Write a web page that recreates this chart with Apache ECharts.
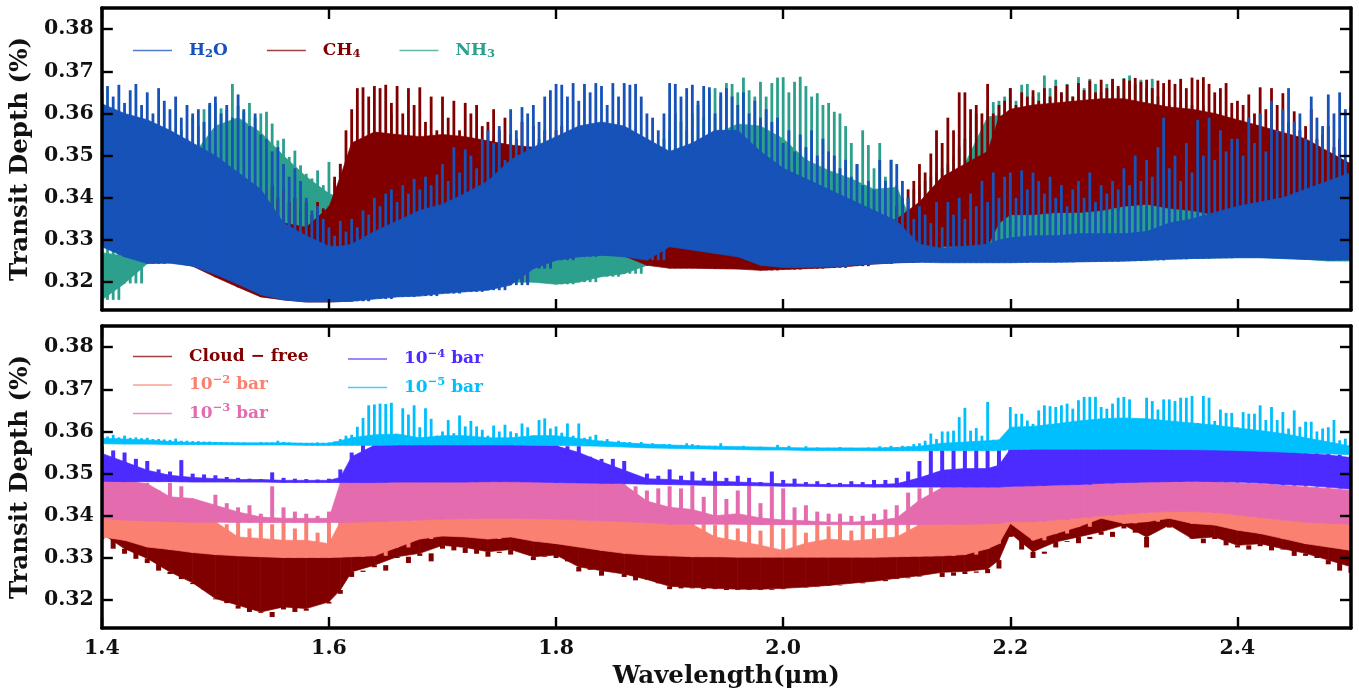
<!DOCTYPE html>
<html><head><meta charset="utf-8">
<style>html,body{margin:0;padding:0;background:#fff}#c{width:1359px;height:691px}</style>
<script src="https://cdn.jsdelivr.net/npm/echarts@6/dist/echarts.min.js"></script>
</head><body><div id="c"></div>
<script>
// All depths below are in units of 0.0001 %.
const bandWave=[1.40,1.42,1.44,1.46,1.48,1.50,1.52,1.54,1.56,1.58,1.60,1.61,1.62,
1.64,1.66,1.68,1.70,1.72,1.74,1.76,1.78,1.80,1.82,1.84,1.86,1.88,1.90,
1.92,1.94,1.96,1.98,2.00,2.02,2.04,2.06,2.08,2.10,2.12,2.14,2.16,2.18,
2.19,2.20,2.22,2.24,2.26,2.28,2.30,2.32,2.34,2.36,2.38,2.40,2.42,2.44,2.46,2.48,2.50];
const xTicks=[1.4,1.6,1.8,2.0,2.2,2.4];
const yTicks=[0.32,0.33,0.34,0.35,0.36,0.37,0.38];

// ---- upper panel
const h2oLo=[3284,3260,3244,3245,3238,3218,3195,3170,3158,3153,3153,3154,3155,
3160,3165,3167,3173,3177,3181,3193,3232,3252,3260,3264,3260,3252,3284,
3276,3268,3260,3240,3235,3235,3236,3240,3243,3246,3247,3246,3246,3246,
3246,3246,3247,3247,3248,3249,3250,3252,3255,3256,3257,3258,3258,3256,3254,3252,3253];
const h2oCore=[3623,3600,3585,3560,3530,3500,3460,3420,3340,3310,3285,3285,3290,
3320,3345,3370,3385,3410,3440,3490,3520,3545,3570,3580,3570,3540,3510,
3530,3560,3560,3510,3470,3445,3420,3395,3370,3345,3290,3280,3285,3290,
3300,3305,3310,3310,3315,3315,3315,3320,3340,3350,3365,3380,3390,3400,3420,3440,3460];
const h2oPeak=[3650,3665,3640,3668,3625,3655,3670,3620,3650,3600,3660,3630,3610,3640,3590,3620,3600,3610,3580,3625,
3640,3600,3620,3590,3645,3610,3570,3600,3550,3540,3510,3520,3480,3450,3470,3440,3400,3370,3380,3350,
3330,3310,3345,3320,3350,3330,3370,3360,3400,3380,3410,3420,3390,3430,3410,3445,3420,3450,3430,3455,
3480,3440,3520,3460,3515,3500,3470,3540,3560,3530,3570,3490,3610,3560,3615,3600,3620,3580,3640,3655,
3670,3668,3640,3672,3630,3670,3650,3672,3665,3620,3672,3640,3672,3668,3670,3640,3600,3590,3560,3600,
3672,3670,3640,3660,3668,3630,3665,3662,3600,3650,3660,3640,3620,3650,3600,3630,3590,3610,3580,3590,
3530,3560,3510,3550,3520,3560,3500,3540,3510,3500,3470,3490,3450,3480,3430,3440,3420,3490,3440,3490,
3480,3440,3400,3350,3380,3360,3340,3390,3330,3390,3360,3400,3350,3410,3380,3440,3390,3460,3400,3450,
3460,3400,3465,3420,3460,3440,3410,3450,3400,3430,3380,3420,3440,3400,3460,3390,3430,3410,3440,3420,
3470,3430,3500,3440,3490,3450,3520,3590,3470,3500,3440,3530,3460,3585,3500,3590,3490,3560,3510,3540,
3540,3500,3590,3530,3600,3510,3630,3560,3610,3660,3580,3600,3540,3640,3590,3570,3645,3600,3650,3610,3615];

const ch4Lo=[3300,3270,3250,3248,3238,3212,3188,3165,3158,3153,3153,3154,3155,
3165,3170,3175,3180,3185,3190,3200,3235,3255,3262,3265,3262,3240,3233,
3233,3232,3231,3228,3230,3232,3234,3238,3243,3246,3248,3285,3285,3285,
3340,3360,3360,3365,3365,3370,3380,3385,3375,3370,3360,3360,3345,3345,3345,3345,3345];
const ch4Core=[3420,3420,3400,3390,3370,3350,3340,3330,3340,3330,3378,3450,3530,
3556,3550,3545,3550,3545,3535,3525,3520,3490,3480,3460,3450,3420,3380,
3350,3320,3300,3290,3280,3280,3280,3290,3330,3350,3390,3450,3480,3510,
3590,3610,3620,3625,3630,3635,3635,3625,3615,3610,3600,3585,3570,3555,3540,3510,3480];
const ch4Peak=[3400,3400,3400,3400,3400,3400,3400,3400,3400,3400,3400,3400,3400,3400,3400,3400,3400,3400,3400,3400,
3350,3340,3330,3350,3340,3340,3345,3330,3350,3340,3430,3400,3420,3390,3400,3370,3390,3360,3390,3375,
3380,3450,3480,3560,3610,3660,3662,3640,3665,3660,3668,3625,3665,3600,3660,3620,3662,3580,3640,3560,
3640,3590,3630,3560,3625,3600,3620,3570,3580,3610,3560,3590,3550,3540,3580,3520,3570,3530,3560,3540,
3560,3570,3540,3550,3540,3530,3520,3540,3500,3520,3500,3510,3470,3510,3480,3490,3460,3450,3440,3470,
3440,3420,3430,3400,3420,3380,3400,3370,3380,3360,3370,3350,3340,3350,3320,3330,3310,3300,3310,3290,
3300,3290,3300,3290,3310,3300,3290,3310,3300,3320,3330,3340,3310,3340,3350,3330,3370,3340,3360,3350,
3380,3400,3420,3440,3480,3460,3505,3560,3530,3590,3560,3650,3650,3610,3620,3600,3670,3600,3620,3630,
3660,3620,3650,3640,3655,3630,3660,3640,3665,3650,3668,3640,3672,3655,3678,3650,3680,3660,3682,3665,
3682,3678,3684,3675,3680,3660,3678,3672,3680,3670,3682,3660,3685,3680,3686,3670,3650,3660,3672,3625,
3630,3620,3645,3600,3662,3610,3660,3620,3648,3580,3605,3560,3570,3610,3540,3550,3570,3520,3540,3490,3480];

const nh3Lo=[3158,3197,3244,3250,3250,3250,3240,3220,3210,3200,3200,3200,3200,
3200,3200,3200,3200,3200,3200,3200,3200,3195,3200,3213,3220,3240,3260,
3270,3270,3270,3265,3260,3250,3250,3250,3250,3250,3250,3250,3250,3250,
3250,3250,3250,3250,3250,3250,3250,3252,3254,3256,3257,3258,3258,3256,3254,3250,3250];
const nh3Core=[3270,3262,3278,3400,3500,3570,3590,3555,3500,3450,3410,3400,3400,
3320,3340,3360,3380,3400,3420,3450,3480,3500,3520,3530,3510,3500,3480,
3490,3550,3575,3570,3540,3490,3465,3445,3420,3425,3300,3400,3480,3592,
3595,3590,3600,3610,3620,3620,3630,3620,3600,3580,3560,3550,3540,3500,3480,3420,3400];
const nh3Peak=[3330,3300,3320,3290,3330,3300,3350,3330,3380,3360,3450,3500,3530,3550,3560,3540,3590,3570,3610,3620,
3625,3612,3608,3670,3618,3605,3625,3590,3600,3604,3576,3536,3540,3497,3512,3477,3457,3446,3465,3430,
3485,3442,3481,3440,3450,3480,3500,3510,3530,3520,3540,3600,3500,3540,3550,3510,3530,3520,3550,3540,
3520,3540,3500,3520,3530,3490,3520,3530,3510,3540,3500,3520,3510,3530,3500,3510,3520,3540,3500,3530,
3510,3530,3490,3500,3510,3470,3500,3490,3480,3500,3510,3470,3500,3490,3510,3480,3500,3520,3490,3540,
3560,3600,3580,3560,3600,3620,3590,3650,3660,3640,3672,3670,3650,3685,3655,3640,3675,3640,3672,3685,
3686,3650,3675,3687,3665,3640,3648,3620,3625,3604,3600,3570,3530,3480,3560,3525,3470,3530,3450,3490,
3430,3380,3400,3420,3430,3440,3450,3460,3470,3480,3500,3520,3540,3560,3600,3560,3610,3627,3630,3640,
3660,3630,3668,3670,3640,3650,3690,3660,3680,3650,3670,3640,3686,3660,3682,3670,3650,3670,3680,3660,
3684,3690,3670,3680,3660,3682,3640,3650,3620,3600,3630,3600,3620,3610,3620,3590,3600,3580,3570,3580,
3560,3540,3550,3520,3530,3500,3510,3480,3490,3460,3470,3440,3460,3420,3440,3400,3420,3380,3400,3360,3350];

// ---- lower panel
const cloudLo=[3358,3322,3299,3267,3241,3204,3188,3172,3184,3180,3196,3224,3267,
3283,3303,3311,3330,3325,3315,3320,3303,3307,3279,3270,3262,3249,3233,
3230,3228,3226,3226,3228,3231,3235,3240,3245,3252,3258,3266,3268,3274,
3295,3358,3315,3338,3350,3362,3378,3350,3378,3346,3350,3330,3334,3322,3311,3295,3279];
const cloudTop=[3370,3350,3330,3322,3315,3310,3306,3303,3302,3302,3302,3303,3304,
3310,3330,3350,3356,3354,3350,3354,3345,3338,3330,3322,3315,3310,3306,
3304,3304,3303,3303,3303,3303,3303,3303,3303,3304,3305,3306,3310,3325,
3336,3385,3345,3360,3376,3396,3385,3388,3396,3385,3380,3368,3360,3348,3336,3328,3320];
const cloudDip=[3345,3322,3310,3298,3288,3270,3262,3250,3238,3225,
3202,3193,3180,3172,3170,3160,3178,3172,3175,3180,
3192,3215,3255,3270,3278,3270,3300,3288,3305,3292,
3322,3318,3312,3310,3303,3312,3308,3318,3295,3305,
3300,3292,3268,3272,3258,3268,3255,3247,3248,3240,
3226,3228,3228,3226,3226,3224,3224,3224,3224,3224,
3226,3228,3230,3232,3234,3236,3240,3242,3245,3248,
3250,3254,3256,3258,3255,3258,3262,3265,3264,3275,
3350,3320,3300,3310,3325,3340,3335,3345,3355,3350,
3370,3360,3325,3350,3372,3370,3375,3335,3345,3330,
3325,3320,3328,3318,3320,3305,3305,3300,3285,3270,3265];
const bar2Lo=[3350,3342,3326,3320,3313,3308,3305,3303,3301,3301,3301,3302,3303,
3305,3325,3345,3352,3350,3345,3350,3340,3334,3326,3318,3311,3307,3305,
3303,3303,3302,3302,3302,3302,3302,3302,3302,3303,3304,3305,3308,3322,
3334,3382,3342,3358,3374,3394,3382,3386,3394,3382,3378,3366,3358,3346,3334,3326,3318];
const bar2Core=[3401,3394,3390,3387,3386,3386,3350,3346,3342,3342,3334,3386,3386,
3386,3388,3390,3392,3393,3394,3394,3393,3392,3390,3388,3386,3384,3380,
3380,3350,3340,3330,3318,3335,3345,3340,3345,3350,3379,3380,3381,3382,
3382,3386,3386,3390,3395,3400,3404,3408,3410,3410,3408,3402,3396,3390,3385,3382,3380];
const bar2Peak=[3405,3398,3392,3390,3388,3387,3387,3387,3386,3387,
3387,3380,3386,3370,3385,3380,3388,3370,3386,3360,
3385,3388,3388,3390,3390,3392,3392,3394,3400,3396,
3398,3398,3396,3396,3396,3396,3395,3395,3395,3400,
3395,3394,3393,3392,3391,3390,3389,3388,3386,3384,
3382,3382,3381,3380,3378,3382,3370,3380,3365,3380,
3370,3382,3360,3382,3375,3380,3365,3380,3370,3382,
3380,3380,3380,3380,3381,3381,3381,3382,3382,3382,
3388,3388,3392,3394,3398,3400,3402,3404,3408,3406,
3406,3410,3410,3412,3412,3412,3414,3410,3410,3405,
3404,3400,3398,3392,3390,3388,3386,3384,3383,3382,3381];
const bar3Lo=[3394,3390,3388,3386,3385,3385,3384,3384,3384,3384,3384,3384,3385,
3386,3388,3390,3392,3393,3394,3394,3393,3392,3390,3388,3386,3384,3380,
3380,3380,3380,3379,3379,3379,3379,3379,3379,3379,3379,3380,3380,3381,
3382,3386,3386,3390,3395,3400,3404,3408,3410,3410,3408,3402,3396,3390,3385,3382,3380];
const bar3Core=[3483,3483,3476,3445,3441,3425,3409,3397,3394,3394,3394,3478,3480,
3481,3481,3481,3481,3481,3481,3481,3480,3479,3478,3477,3474,3435,3420,
3415,3400,3405,3395,3390,3388,3385,3385,3388,3395,3437,3467,3467,3467,
3470,3476,3477,3478,3479,3480,3480,3481,3482,3481,3481,3478,3476,3472,3468,3465,3460];
const bar3Peak=[3484,3484,3480,3470,3478,3460,3478,3470,3440,3430,
3450,3430,3420,3425,3405,3470,3420,3410,3405,3400,
3410,3460,3482,3482,3482,3482,3482,3482,3482,3482,
3482,3482,3482,3482,3482,3481,3481,3480,3480,3480,
3479,3478,3477,3477,3476,3476,3474,3470,3460,3465,
3470,3465,3472,3445,3472,3440,3460,3472,3430,3470,
3465,3420,3425,3410,3405,3405,3400,3400,3405,3415,
3425,3455,3465,3467,3467,3467,3467,3467,3467,3470,
3478,3478,3479,3480,3480,3481,3482,3482,3483,3483,
3484,3483,3484,3484,3485,3484,3484,3483,3483,3482,
3482,3480,3480,3478,3476,3474,3472,3470,3468,3465,3462];
const bar4Lo=[3482,3481,3481,3481,3480,3480,3480,3480,3479,3479,3479,3479,3479,
3479,3480,3480,3480,3480,3481,3481,3480,3479,3478,3477,3476,3475,3474,
3473,3472,3472,3471,3470,3470,3469,3469,3468,3468,3468,3468,3468,3468,
3468,3470,3471,3473,3474,3477,3479,3480,3481,3482,3481,3480,3478,3474,3472,3468,3463];
const bar4Core=[3548,3528,3508,3496,3491,3488,3486,3486,3484,3484,3484,3491,3540,
3567,3568,3568,3568,3568,3568,3568,3567,3566,3550,3528,3508,3488,3486,
3483,3482,3480,3478,3476,3475,3474,3474,3474,3476,3490,3508,3512,3512,
3520,3558,3560,3560,3561,3561,3561,3560,3560,3559,3558,3556,3555,3552,3548,3544,3538];
const bar4Peak=[3565,3555,3550,3535,3530,3510,3505,3532,3500,3498,
3496,3492,3490,3488,3487,3503,3490,3488,3487,3486,
3488,3510,3550,3570,3570,3570,3570,3570,3570,3570,
3570,3570,3570,3570,3570,3570,3570,3570,3570,3570,
3568,3565,3565,3540,3535,3535,3530,3495,3500,3495,
3510,3495,3505,3490,3505,3490,3495,3490,3480,3505,
3485,3488,3480,3482,3478,3478,3482,3480,3485,3485,
3490,3505,3530,3565,3560,3568,3555,3570,3565,3570,
3562,3562,3563,3563,3564,3564,3564,3562,3562,3562,
3562,3562,3561,3560,3560,3560,3560,3558,3558,3558,
3556,3555,3554,3553,3552,3552,3548,3550,3548,3545,3545];
const bar5Lo=[3571,3570,3570,3569,3569,3569,3568,3568,3568,3567,3567,3567,3567,
3567,3568,3568,3568,3568,3568,3568,3567,3567,3566,3565,3563,3561,3560,
3559,3558,3557,3556,3556,3555,3555,3555,3554,3554,3554,3555,3555,3555,
3555,3557,3558,3558,3558,3558,3558,3558,3557,3557,3556,3555,3553,3551,3549,3547,3545];
const bar5Core=[3584,3582,3580,3576,3574,3574,3573,3573,3573,3572,3572,3578,3585,
3592,3594,3585,3590,3590,3585,3585,3590,3590,3583,3577,3573,3570,3568,
3566,3565,3564,3563,3562,3561,3561,3561,3561,3562,3565,3572,3575,3578,
3580,3610,3612,3618,3625,3630,3632,3630,3625,3620,3615,3608,3602,3595,3585,3575,3565];
const bar5Peak=[3590,3588,3592,3586,3590,3585,3586,3584,3585,3582,3582,3581,3580,3583,3578,3578,3577,3577,3576,3576,
3575,3575,3574,3574,3574,3574,3573,3573,3575,3574,3574,3578,3575,3574,3573,3573,3573,3573,3574,3573,
3574,3576,3582,3590,3592,3611,3632,3662,3664,3666,3665,3668,3590,3655,3640,3662,3610,3655,3630,3590,
3600,3627,3596,3638,3612,3625,3612,3604,3590,3614,3600,3616,3600,3596,3619,3610,3590,3627,3631,3607,
3612,3597,3619,3590,3619,3585,3588,3592,3578,3582,3575,3578,3575,3575,3571,3575,3570,3572,3568,3570,
3570,3566,3568,3572,3570,3568,3566,3566,3566,3572,3564,3563,3562,3566,3563,3562,3564,3562,3561,3568,
3561,3566,3560,3561,3565,3560,3562,3560,3561,3560,3563,3560,3561,3560,3561,3562,3561,3565,3562,3566,
3563,3566,3565,3570,3572,3578,3595,3582,3600,3600,3602,3634,3656,3602,3608,3590,3670,3580,3580,3590,
3658,3642,3642,3626,3618,3650,3662,3660,3658,3662,3666,3654,3674,3682,3682,3682,3658,3654,3666,3680,
3682,3676,3626,3587,3680,3672,3652,3676,3676,3672,3680,3680,3684,3620,3684,3680,3625,3652,3644,3644,
3610,3646,3642,3642,3662,3627,3658,3627,3646,3607,3650,3611,3623,3623,3600,3607,3610,3627,3579,3583,3583];

const font='"DejaVu Serif"';
const xMin=1.4,xMax=2.5,yMin=0.3134,yMax=0.385;
const colors={h2o:'#1652B8',ch4:'#800000',nh3:'#2CA08C',cloud:'#800000',b2:'#FA8072',b3:'#E36BAE',b4:'#4B2BFF',b5:'#00BFFF'};
const unit=v=>v/10000;

function waveAt(i,step){return +(1.4+i*step).toFixed(4);}
function bandIndex(w){let k=0;for(let i=0;i<bandWave.length;i++){if(bandWave[i]<=w+1e-9)k=i;}return k;}

function bandSeries(name,color,lo,hi,g){
  return {type:'custom',name,xAxisIndex:g,yAxisIndex:g,clip:true,silent:true,animation:false,
    itemStyle:{color},encode:{x:0,y:[1,2]},
    data:bandWave.map((w,i)=>[w,unit(lo[i]),unit(hi[i])]),
    renderItem(p,api){
      const i=p.dataIndex; if(i>=bandWave.length-1) return null;
      const a=api.coord([bandWave[i],unit(lo[i])]),b=api.coord([bandWave[i],unit(hi[i])]),
            c=api.coord([bandWave[i+1],unit(hi[i+1])]),d=api.coord([bandWave[i+1],unit(lo[i+1])]);
      return {type:'polygon',shape:{points:[a,b,c,d]},style:{fill:color,stroke:color,lineWidth:0.7}};
    }};
}
function combSeries(name,color,floor,peaks,step,width,g){
  return {type:'custom',name,xAxisIndex:g,yAxisIndex:g,clip:true,silent:true,animation:false,
    itemStyle:{color},encode:{x:0,y:[1,2]},
    data:peaks.map((v,i)=>{const w=waveAt(i,step);return [w,unit(floor[bandIndex(w)]),unit(v)];}),
    renderItem(p,api){
      const a=api.coord([api.value(0),api.value(1)]),b=api.coord([api.value(0),api.value(2)]);
      return {type:'line',shape:{x1:a[0],y1:a[1],x2:b[0],y2:b[1]},style:{stroke:color,lineWidth:width,fill:null}};
    }};
}
function richFor(key,color){
  const base={color,fontFamily:font,fontWeight:'bold',fontSize:17,lineHeight:20};
  return {[key]:base,
    [key+'s']:Object.assign({},base,{fontSize:11.5,verticalAlign:'bottom',lineHeight:17}),
    [key+'u']:Object.assign({},base,{fontSize:11.5,verticalAlign:'top',lineHeight:22})};
}
const names={h2o:'H2O',ch4:'CH4',nh3:'NH3',cloud:'Cloud - free',b2:'10-2 bar',b3:'10-3 bar',b4:'10-4 bar',b5:'10-5 bar'};
const richText={'H2O':'{h2o|H}{h2os|2}{h2o|O}','CH4':'{ch4|CH}{ch4s|4}','NH3':'{nh3|NH}{nh3s|3}',
  'Cloud - free':'{cloud|Cloud − free}','10-2 bar':'{b2|10}{b2u|−2}{b2| bar}','10-3 bar':'{b3|10}{b3u|−3}{b3| bar}',
  '10-4 bar':'{b4|10}{b4u|−4}{b4| bar}','10-5 bar':'{b5|10}{b5u|−5}{b5| bar}'};
let rich={};Object.keys(colors).forEach(k=>Object.assign(rich,richFor(k,colors[k])));

function legend(keys,left,top,orient,gap){
  return {show:true,left,top,orient,itemGap:gap,itemWidth:39,itemHeight:1.5,selectedMode:false,padding:0,
    icon:'rect',itemStyle:{opacity:0.75},
    data:keys.map(k=>({name:names[k],icon:'rect'})),
    formatter:n=>richText[n],textStyle:{rich,padding:[0,0,0,12]}};
}

const series=[
  bandSeries(names.nh3,colors.nh3,nh3Lo,nh3Core,0),combSeries(names.nh3,colors.nh3,nh3Lo,nh3Peak,0.005,2.8,0),
  bandSeries(names.ch4,colors.ch4,ch4Lo,ch4Core,0),combSeries(names.ch4,colors.ch4,ch4Lo,ch4Peak,0.005,2.8,0),
  bandSeries(names.h2o,colors.h2o,h2oLo,h2oCore,0),combSeries(names.h2o,colors.h2o,h2oLo,h2oPeak,0.005,2.8,0),
  bandSeries(names.cloud,colors.cloud,cloudLo,cloudTop,1),combSeries(names.cloud,colors.cloud,cloudLo,cloudDip,0.01,5,1),
  bandSeries(names.b2,colors.b2,bar2Lo,bar2Core,1),combSeries(names.b2,colors.b2,bar2Lo,bar2Peak,0.01,4,1),
  bandSeries(names.b3,colors.b3,bar3Lo,bar3Core,1),combSeries(names.b3,colors.b3,bar3Lo,bar3Peak,0.01,4,1),
  bandSeries(names.b4,colors.b4,bar4Lo,bar4Core,1),combSeries(names.b4,colors.b4,bar4Lo,bar4Peak,0.01,4,1),
  bandSeries(names.b5,colors.b5,bar5Lo,bar5Core,1),combSeries(names.b5,colors.b5,bar5Lo,bar5Peak,0.005,2.8,1)
];

const spine={show:true,onZero:false,lineStyle:{color:'#000',width:3.5}};
const tick={show:true,inside:true,length:11,lineStyle:{color:'#000',width:2.4}};
const labelStyle={fontFamily:font,fontWeight:'bold',fontSize:20.5,color:'#111'};
const nameStyle={fontFamily:font,fontWeight:'bold',fontSize:24.5,color:'#111'};
function xAxis(g,pos,labelled,withName){
  return {type:'value',gridIndex:g,position:pos,min:xMin,max:xMax,z:10,axisLine:spine,splitLine:{show:false},
    axisTick:Object.assign({customValues:xTicks},tick),
    axisLabel:{show:labelled,customValues:xTicks,margin:10,formatter:v=>v.toFixed(1),...labelStyle},
    name:withName?'Wavelength(μm)':'',nameLocation:'middle',nameGap:36,nameTextStyle:nameStyle};
}
function yAxis(g,pos,labelled){
  return {type:'value',gridIndex:g,position:pos,min:yMin,max:yMax,z:10,axisLine:spine,splitLine:{show:false},
    axisTick:Object.assign({customValues:yTicks},tick),
    axisLabel:{show:labelled,customValues:yTicks,margin:8,formatter:v=>v.toFixed(2),...labelStyle},
    name:labelled?'Transit Depth (%)':'',nameLocation:'middle',nameGap:66,nameRotate:90,nameTextStyle:nameStyle};
}

const chart=echarts.init(document.getElementById('c'),null,{renderer:'canvas'});
chart.setOption({
  animation:false,backgroundColor:'#fff',
  grid:[{left:100,right:8,top:8,height:302},{left:100,right:8,top:326,height:302}],
  xAxis:[xAxis(0,'bottom',false,false),xAxis(1,'bottom',true,true),xAxis(0,'top',false,false),xAxis(1,'top',false,false)],
  yAxis:[yAxis(0,'left',true),yAxis(1,'left',true),yAxis(0,'right',false),yAxis(1,'right',false)],
  legend:[legend(['h2o','ch4','nh3'],133,42,'horizontal',39),
          legend(['cloud','b2','b3'],133,348,'vertical',9),
          legend(['b4','b5'],348,348,'vertical',9)],
  series
});
</script></body></html>
